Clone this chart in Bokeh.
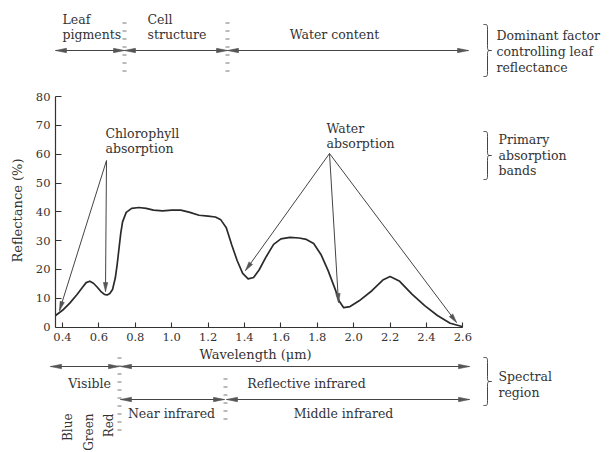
import math
from bokeh.plotting import figure
from bokeh.models import Range1d, LinearAxis, FixedTicker
from bokeh.embed import file_html
from bokeh.resources import INLINE
from bokeh.core.properties import value

# ---------------- data ----------------
wavelength = [0.362, 0.40, 0.44, 0.48, 0.51, 0.53, 0.55, 0.57, 0.59, 0.61, 0.63, 0.645,
              0.66, 0.675, 0.69, 0.70, 0.71, 0.72, 0.73, 0.75, 0.78, 0.82, 0.86, 0.90,
              0.95, 1.00, 1.05, 1.10, 1.15, 1.20, 1.24, 1.27, 1.30, 1.33, 1.36, 1.39,
              1.42, 1.45, 1.48, 1.52, 1.56, 1.60, 1.65, 1.70, 1.74, 1.78, 1.82, 1.86,
              1.90, 1.92, 1.945, 1.98, 2.03, 2.10, 2.16, 2.20, 2.25, 2.32, 2.39, 2.46,
              2.53, 2.60]
reflectance = [4.0, 5.8, 8.3, 11.3, 13.8, 15.4, 15.9, 15.2, 13.9, 12.4, 11.3, 11.1,
               11.6, 13.0, 17.0, 21.5, 27.0, 32.5, 36.5, 39.8, 41.2, 41.5, 41.2, 40.6,
               40.3, 40.6, 40.6, 39.8, 38.8, 38.5, 38.2, 37.2, 34.5, 28.5, 23.0, 18.6,
               16.7, 17.2, 19.8, 24.5, 28.7, 30.6, 31.1, 30.9, 30.4, 29.0, 25.2, 19.5,
               12.8, 9.0, 6.7, 7.1, 9.1, 12.6, 16.3, 17.5, 16.0, 11.4, 7.4, 4.0,
               1.3, 0.1]
x_ticks = [0.4, 0.6, 0.8, 1.0, 1.2, 1.4, 1.6, 1.8, 2.0, 2.2, 2.4, 2.6]
x_tick_labels = ["0.4", "0.6", "0.8", "1.0", "1.2", "1.4", "1.6", "1.8", "2.0", "2.2", "2.4", "2.6"]
y_ticks = [0, 10, 20, 30, 40, 50, 60, 70, 80]
y_tick_labels = ["0", "10", "20", "30", "40", "50", "60", "70", "80"]

# ---------------- layout ----------------
W, H = 609, 452
KX = 182.0      # px per micrometre
KY = 2.88       # px per percent
PX_04 = 62.0    # screen x of 0.4 um
PY_0 = 326.5    # screen y of 0 %
x_start = 0.4 - PX_04 / KX
x_end = x_start + W / KX
y_end = PY_0 / KY
y_start = y_end - H / KY

def dx(px):
    return x_start + px / KX

def dy(py):
    return y_end - py / KY

INK = "#333333"
FONT = value("DejaVu Serif")

p = figure(width=W, height=H, x_range=Range1d(x_start, x_end), y_range=Range1d(y_start, y_end),
           x_axis_type=None, y_axis_type=None, toolbar_location=None, output_backend="svg",
           min_border=0, outline_line_color=None, background_fill_color="white",
           border_fill_color="white")
p.title.visible = False

axis_style = dict(axis_line_color=INK, axis_line_width=1.2, major_tick_line_color=INK,
                  major_tick_line_width=1.1, major_tick_in=5, major_tick_out=0,
                  minor_tick_line_color=None, major_label_text_font="DejaVu Serif",
                  major_label_text_font_size="11.5px", major_label_text_color=INK)
xaxis = LinearAxis(fixed_location=0, bounds=(dx(55), 2.6), ticker=FixedTicker(ticks=x_ticks),
                   major_label_overrides=dict(zip(x_ticks, x_tick_labels)),
                   major_label_standoff=6, **axis_style)
yaxis = LinearAxis(fixed_location=dx(55), bounds=(0, 80), ticker=FixedTicker(ticks=y_ticks),
                   major_label_overrides=dict(zip(y_ticks, y_tick_labels)),
                   major_label_standoff=5, **axis_style)
yaxis.major_tick_in = 6
p.add_layout(xaxis, "below")
p.add_layout(yaxis, "left")

# spectral curve
p.line(wavelength, reflectance, line_width=1.7, line_color="#2a2a2a", line_join="round")

# ---------------- annotation helpers (screen px -> data) ----------------
seg = dict(x0=[], y0=[], x1=[], y1=[])
heads_x, heads_y = [], []

def head(tx, ty, fx, fy, L, hw):
    ux, uy = tx - fx, ty - fy
    n = math.hypot(ux, uy)
    ux, uy = ux / n, uy / n
    bx, by = tx - L * ux, ty - L * uy
    nx, ny = -uy, ux
    pts = [(tx, ty), (bx + hw * nx, by + hw * ny), (bx - hw * nx, by - hw * ny)]
    heads_x.append([dx(a) for a, b in pts])
    heads_y.append([dy(b) for a, b in pts])

def arrow(x0, y0, x1, y1, both=False, L=9, hw=2.2):
    seg["x0"].append(dx(x0)); seg["y0"].append(dy(y0))
    seg["x1"].append(dx(x1)); seg["y1"].append(dy(y1))
    head(x1, y1, x0, y0, L, hw)
    if both:
        head(x0, y0, x1, y1, L, hw)

dash = dict(x0=[], y0=[], x1=[], y1=[])

def dashes(x, t, b):
    dash["x0"].append(dx(x)); dash["y0"].append(dy(t))
    dash["x1"].append(dx(x)); dash["y1"].append(dy(b))

bez = dict(x0=[], y0=[], x1=[], y1=[], cx0=[], cy0=[], cx1=[], cy1=[])
bseg = dict(x0=[], y0=[], x1=[], y1=[])

def curve(a, c, d, b):
    bez["x0"].append(dx(a[0])); bez["y0"].append(dy(a[1]))
    bez["cx0"].append(dx(c[0])); bez["cy0"].append(dy(c[1]))
    bez["cx1"].append(dx(d[0])); bez["cy1"].append(dy(d[1]))
    bez["x1"].append(dx(b[0])); bez["y1"].append(dy(b[1]))

def brace(x, t, b, w=8, r=5):
    m = (t + b) / 2
    h = x + w / 2
    curve((x, t), (h, t), (h, t), (h, t + r))
    curve((h, m - r), (h, m), (h, m), (x + w, m))
    curve((x + w, m), (h, m), (h, m), (h, m + r))
    curve((h, b - r), (h, b), (h, b), (x, b))
    for a0, a1 in ((t + r, m - r), (m + r, b - r)):
        bseg["x0"].append(dx(h)); bseg["y0"].append(dy(a0))
        bseg["x1"].append(dx(h)); bseg["y1"].append(dy(a1))

def label(txt, px, py, align="left", angle=0.0, size="12.5px"):
    p.text(x=[dx(px)], y=[dy(py)], text=[txt], text_font=FONT, text_font_size=size,
           text_color=INK, text_align=align, text_baseline="middle", angle=angle)

# ---------------- top band: dominant factor ----------------
arrow(55, 50, 124, 50, both=True, L=11, hw=2.2)
arrow(124, 50, 227, 50, both=True, L=11, hw=2.2)
arrow(227, 50, 468, 50, both=True, L=11, hw=2.2)
dashes(124, 22, 78)
dashes(227, 22, 78)
label("Leaf", 62, 19)
label("pigments", 62, 34)
label("Cell", 147, 19)
label("structure", 147, 34)
label("Water content", 334, 34, align="center")
brace(483, 24, 76)
label("Dominant factor", 496, 35)
label("controlling leaf", 496, 51)
label("reflectance", 496, 67)

# ---------------- chart annotations ----------------
label("Chlorophyll", 105, 133)
label("absorption", 105, 148)
arrow(106, 160, 59, 310)
arrow(106, 160, 105, 291)
label("Water", 326, 128)
label("absorption", 326, 143)
arrow(329, 153, 245, 270)
arrow(329, 153, 338, 302)
arrow(329, 153, 456, 322)
brace(483, 131, 179)
label("Primary", 498, 139)
label("absorption", 498, 155)
label("bands", 498, 170)

label("Reflectance (%)", 17, 210, align="center", angle=math.pi / 2, size="13px")
label("Wavelength (\u03bcm)", 255, 354, align="center", size="13px")

# ---------------- bottom band: spectral region ----------------
arrow(50, 366, 119, 366, both=True, L=11, hw=2.2)
arrow(120, 366, 469, 366, both=True, L=11, hw=2.2)
arrow(120, 399, 224, 399, both=True, L=11, hw=2.2)
arrow(226, 399, 469, 399, both=True, L=11, hw=2.2)
dashes(119, 357, 436)
dashes(225, 378, 421)
label("Visible", 89, 383, align="center")
label("Reflective infrared", 306, 383, align="center")
label("Near infrared", 171, 413, align="center")
label("Middle infrared", 343, 413, align="center")
label("Blue", 67, 413, align="right", angle=math.pi / 2, size="12px")
label("Green", 88, 413, align="right", angle=math.pi / 2, size="12px")
label("Red", 108, 413, align="right", angle=math.pi / 2, size="12px")
brace(483, 357, 405)
label("Spectral", 498, 376)
label("region", 498, 392)

# draw collected marks
p.segment(x0="x0", y0="y0", x1="x1", y1="y1", source=seg, line_color="#444444", line_width=1.0)
p.patches(heads_x, heads_y, fill_color="#555555", line_color="#555555", line_width=0.6)
p.segment(x0="x0", y0="y0", x1="x1", y1="y1", source=dash, line_color="#777777",
          line_width=4, line_dash="1 7", line_cap="butt")
p.bezier(x0="x0", y0="y0", x1="x1", y1="y1", cx0="cx0", cy0="cy0", cx1="cx1", cy1="cy1",
         source=bez, line_color="#444444", line_width=1.0)
p.segment(x0="x0", y0="y0", x1="x1", y1="y1", source=bseg, line_color="#444444", line_width=1.0)

open("out.html", "w").write(file_html(p, INLINE))
